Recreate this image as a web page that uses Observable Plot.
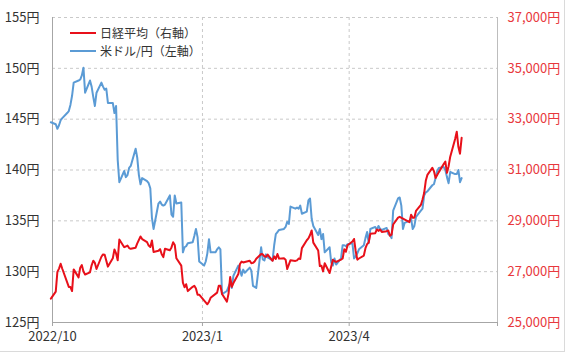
<!DOCTYPE html>
<html><head><meta charset="utf-8">
<script src="https://cdn.jsdelivr.net/npm/d3@7"></script>
<script src="https://cdn.jsdelivr.net/npm/@observablehq/plot@0.6"></script>
<style>
body{margin:0;background:#fff;}
#wrap{position:relative;width:568px;height:355px;font-family:"Noto Sans CJK JP","Noto Sans",sans-serif;overflow:hidden}
#chart svg{display:block}
#frame{position:absolute;left:-2px;top:-2px;width:566px;height:353px;border-right:1px solid #dadada;border-bottom:1px solid #dadada;pointer-events:none}
#legend{position:absolute;left:70px;top:24px;font-size:12px;color:#333;line-height:18px}
.item{display:flex;align-items:center;height:18px}
.sw{width:26px;height:2px;margin-right:4px}
</style></head><body>
<div id="wrap"><div id="chart"></div>
<div id="legend">
<div class="item"><span class="sw" style="background:#e8101a"></span><span>日経平均（右軸）</span></div>
<div class="item"><span class="sw" style="background:#5b9bd5"></span><span>米ドル/円（左軸）</span></div>
</div><div id="frame"></div></div>
<script>
// trading-day dates (weekdays)
const dates = [
"2022-09-30",
"2022-10-03","2022-10-04","2022-10-05","2022-10-06","2022-10-07","2022-10-10","2022-10-11","2022-10-12","2022-10-13","2022-10-14","2022-10-17","2022-10-18","2022-10-19","2022-10-20","2022-10-21","2022-10-24","2022-10-25","2022-10-26","2022-10-27","2022-10-28","2022-10-31",
"2022-11-01","2022-11-02","2022-11-03","2022-11-04","2022-11-07","2022-11-08","2022-11-09","2022-11-10","2022-11-11","2022-11-14","2022-11-15","2022-11-16","2022-11-17","2022-11-18","2022-11-21","2022-11-22","2022-11-23","2022-11-24","2022-11-25","2022-11-28","2022-11-29","2022-11-30",
"2022-12-01","2022-12-02","2022-12-05","2022-12-06","2022-12-07","2022-12-08","2022-12-09","2022-12-12","2022-12-13","2022-12-14","2022-12-15","2022-12-16","2022-12-19","2022-12-20","2022-12-21","2022-12-22","2022-12-23","2022-12-26","2022-12-27","2022-12-28","2022-12-29","2022-12-30",
"2023-01-02","2023-01-03","2023-01-04","2023-01-05","2023-01-06","2023-01-09","2023-01-10","2023-01-11","2023-01-12","2023-01-13","2023-01-16","2023-01-17","2023-01-18","2023-01-19","2023-01-20","2023-01-23","2023-01-24","2023-01-25","2023-01-26","2023-01-27","2023-01-30","2023-01-31",
"2023-02-01","2023-02-02","2023-02-03","2023-02-06","2023-02-07","2023-02-08","2023-02-09","2023-02-10","2023-02-13","2023-02-14","2023-02-15","2023-02-16","2023-02-17","2023-02-20","2023-02-21","2023-02-22","2023-02-23","2023-02-24","2023-02-27","2023-02-28",
"2023-03-01","2023-03-02","2023-03-03","2023-03-06","2023-03-07","2023-03-08","2023-03-09","2023-03-10","2023-03-13","2023-03-14","2023-03-15","2023-03-16","2023-03-17","2023-03-20","2023-03-21","2023-03-22","2023-03-23","2023-03-24","2023-03-27","2023-03-28","2023-03-29","2023-03-30","2023-03-31",
"2023-04-03","2023-04-04","2023-04-05","2023-04-06","2023-04-07","2023-04-10","2023-04-11","2023-04-12","2023-04-13","2023-04-14","2023-04-17","2023-04-18","2023-04-19","2023-04-20","2023-04-21","2023-04-24","2023-04-25","2023-04-26","2023-04-27","2023-04-28",
"2023-05-01","2023-05-02","2023-05-03","2023-05-04","2023-05-05","2023-05-08","2023-05-09","2023-05-10","2023-05-11","2023-05-12","2023-05-15","2023-05-16","2023-05-17","2023-05-18","2023-05-19","2023-05-22","2023-05-23","2023-05-24","2023-05-25","2023-05-26","2023-05-29","2023-05-30","2023-05-31",
"2023-06-01","2023-06-02","2023-06-05","2023-06-06","2023-06-07","2023-06-08","2023-06-09"
];
// 日経平均 (円), null = Tokyo market closed
const nikkei = [
25937,
26215,26992,27120,27311,27116,null,26401,26396,26237,27090,26775,27156,27257,27006,26890,26974,27250,27431,27345,27105,27587,
27678,27663,null,27199,27527,27872,27716,27446,28263,27963,27990,28028,27930,27899,27944,28115,null,28383,28283,28162,28027,27968,
28226,27777,27820,27885,27686,27574,27901,27842,27954,28156,28051,27527,27237,26568,26387,26507,26235,26405,26447,26340,26093,26094,
null,null,25716,25820,25973,null,26175,26446,26449,26119,25822,26138,26791,26405,26553,26906,27299,27395,27362,27382,27433,27327,
27346,27402,27509,27693,27685,27606,27584,27670,27427,27602,27501,27696,27513,27531,27473,27104,null,27453,27423,27445,
27516,27498,27927,28237,28309,28444,28623,28143,27832,27222,27229,27010,27333,26945,null,27466,27419,27385,27476,27518,27883,27782,28041,
28188,28287,27813,27472,27518,27633,27923,28082,28156,28493,28514,28658,28606,28657,28564,28593,28620,28416,28457,28856,
29123,29157,null,null,null,28949,29242,29122,29126,29388,29626,29842,30093,30573,30808,31086,30957,30682,30801,30916,31233,31328,30887,
31148,31524,32217,32506,31913,31641,32265
];
// 米ドル/円
const usdjpy = [
144.7,
144.5,144.05,144.4,144.9,145.1,145.6,145.8,146.4,147.3,148.6,148.8,148.9,149.3,150.05,147.6,148.8,148.2,147.2,146.3,147.6,148.6,
148.2,147.9,148.0,146.6,146.6,145.6,146.3,141.0,138.8,139.9,139.3,139.5,140.2,140.4,142.1,141.2,139.5,138.6,139.2,138.9,138.7,138.2,
135.3,134.2,136.7,136.9,136.6,136.5,136.6,137.5,135.6,135.4,137.5,136.7,136.8,131.9,132.4,132.5,132.8,132.9,133.5,134.2,133.4,131.0,
130.6,131.0,131.8,133.2,131.9,131.9,132.2,132.4,132.2,127.8,128.1,128.5,128.9,128.4,129.6,130.6,130.2,129.6,130.2,129.9,130.4,130.1,
128.6,128.5,128.4,132.4,131.2,131.1,131.7,131.4,131.1,132.6,133.7,133.9,134.1,134.2,134.4,134.9,134.7,136.4,136.2,136.3,
136.2,136.5,135.7,135.9,137.0,137.2,135.2,134.5,133.6,134.2,133.2,133.7,131.9,132.4,130.9,130.6,131.3,130.7,131.3,132.6,132.6,132.5,132.7,
132.8,131.3,131.5,131.8,132.2,132.6,133.3,133.9,132.8,134.2,134.4,134.1,134.5,134.2,134.1,134.3,133.7,133.6,133.3,136.0,
137.2,137.3,136.5,134.2,134.8,135.0,135.2,134.2,134.5,135.4,136.0,136.2,137.5,137.8,137.9,138.5,138.6,139.2,139.9,140.2,140.3,140.0,139.3,
138.7,139.8,139.6,139.6,140.0,138.8,139.2
];
const leftTicks = [125,130,135,140,145,150,155];
const rightTicks = [25000,27000,29000,31000,33000,35000,37000];
const xTickDates = ["2022-10-01","2023-01-01","2023-04-01","2023-07-01"];
const xTickLabels = ["2022/10","2023/1","2023/4",""];

const parse = d3.utcParse("%Y-%m-%d");
const rows = dates.map((d,i)=>({date:parse(d), nikkei:nikkei[i], usd:usdjpy[i]}));
// map Nikkei onto the left scale (125↔25,000, 155↔37,000)
const toLeft = n => leftTicks[0] + (n - rightTicks[0]) * (leftTicks[6]-leftTicks[0]) / (rightTicks[6]-rightTicks[0]);
const xT = xTickDates.map(parse);
const grid = {stroke:"#c9c9c9", strokeOpacity:1, strokeDasharray:"3,3"};

const chart = Plot.plot({
  width:568, height:355,
  marginLeft:52, marginRight:71, marginTop:17, marginBottom:33,
  style:{fontFamily:'"Noto Sans CJK JP","Noto Sans",sans-serif', fontSize:"13px", background:"transparent", color:"#333"},
  x:{type:"utc", domain:[xT[0], xT[3]], label:null},
  y:{domain:[leftTicks[0], leftTicks[6]], label:null},
  marks:[
    Plot.gridY(leftTicks.slice(1), grid),
    Plot.gridX(xT.slice(1,3), grid),
    Plot.ruleX([xT[3]], {stroke:"#bdbdbd"}),
    Plot.axisY(leftTicks, {anchor:"left", tickSize:0, tickPadding:13, label:null, fill:"#333", tickFormat:d=>d+"円"}),
    Plot.axisY(rightTicks.map(toLeft), {anchor:"right", tickSize:0, tickPadding:10, label:null, fill:"#e8383d",
      tickFormat:(d,i)=>d3.format(",")(rightTicks[i])+"円"}),
    Plot.axisX(xT, {tickSize:4, tickPadding:5, label:null, stroke:"#a6a6a6", fill:"#333", tickFormat:(d,i)=>xTickLabels[i]}),
    Plot.ruleY([leftTicks[0]], {stroke:"#a6a6a6"}),
    Plot.ruleX([xT[0]], {stroke:"#a6a6a6"}),
    Plot.line(rows.filter(d=>d.usd!=null), {x:"date", y:"usd", stroke:"#5b9bd5", strokeWidth:2}),
    Plot.line(rows.filter(d=>d.nikkei!=null), {x:"date", y:d=>toLeft(d.nikkei), stroke:"#e8101a", strokeWidth:2})
  ]
});
document.getElementById("chart").appendChild(chart);
</script>
</body></html>
